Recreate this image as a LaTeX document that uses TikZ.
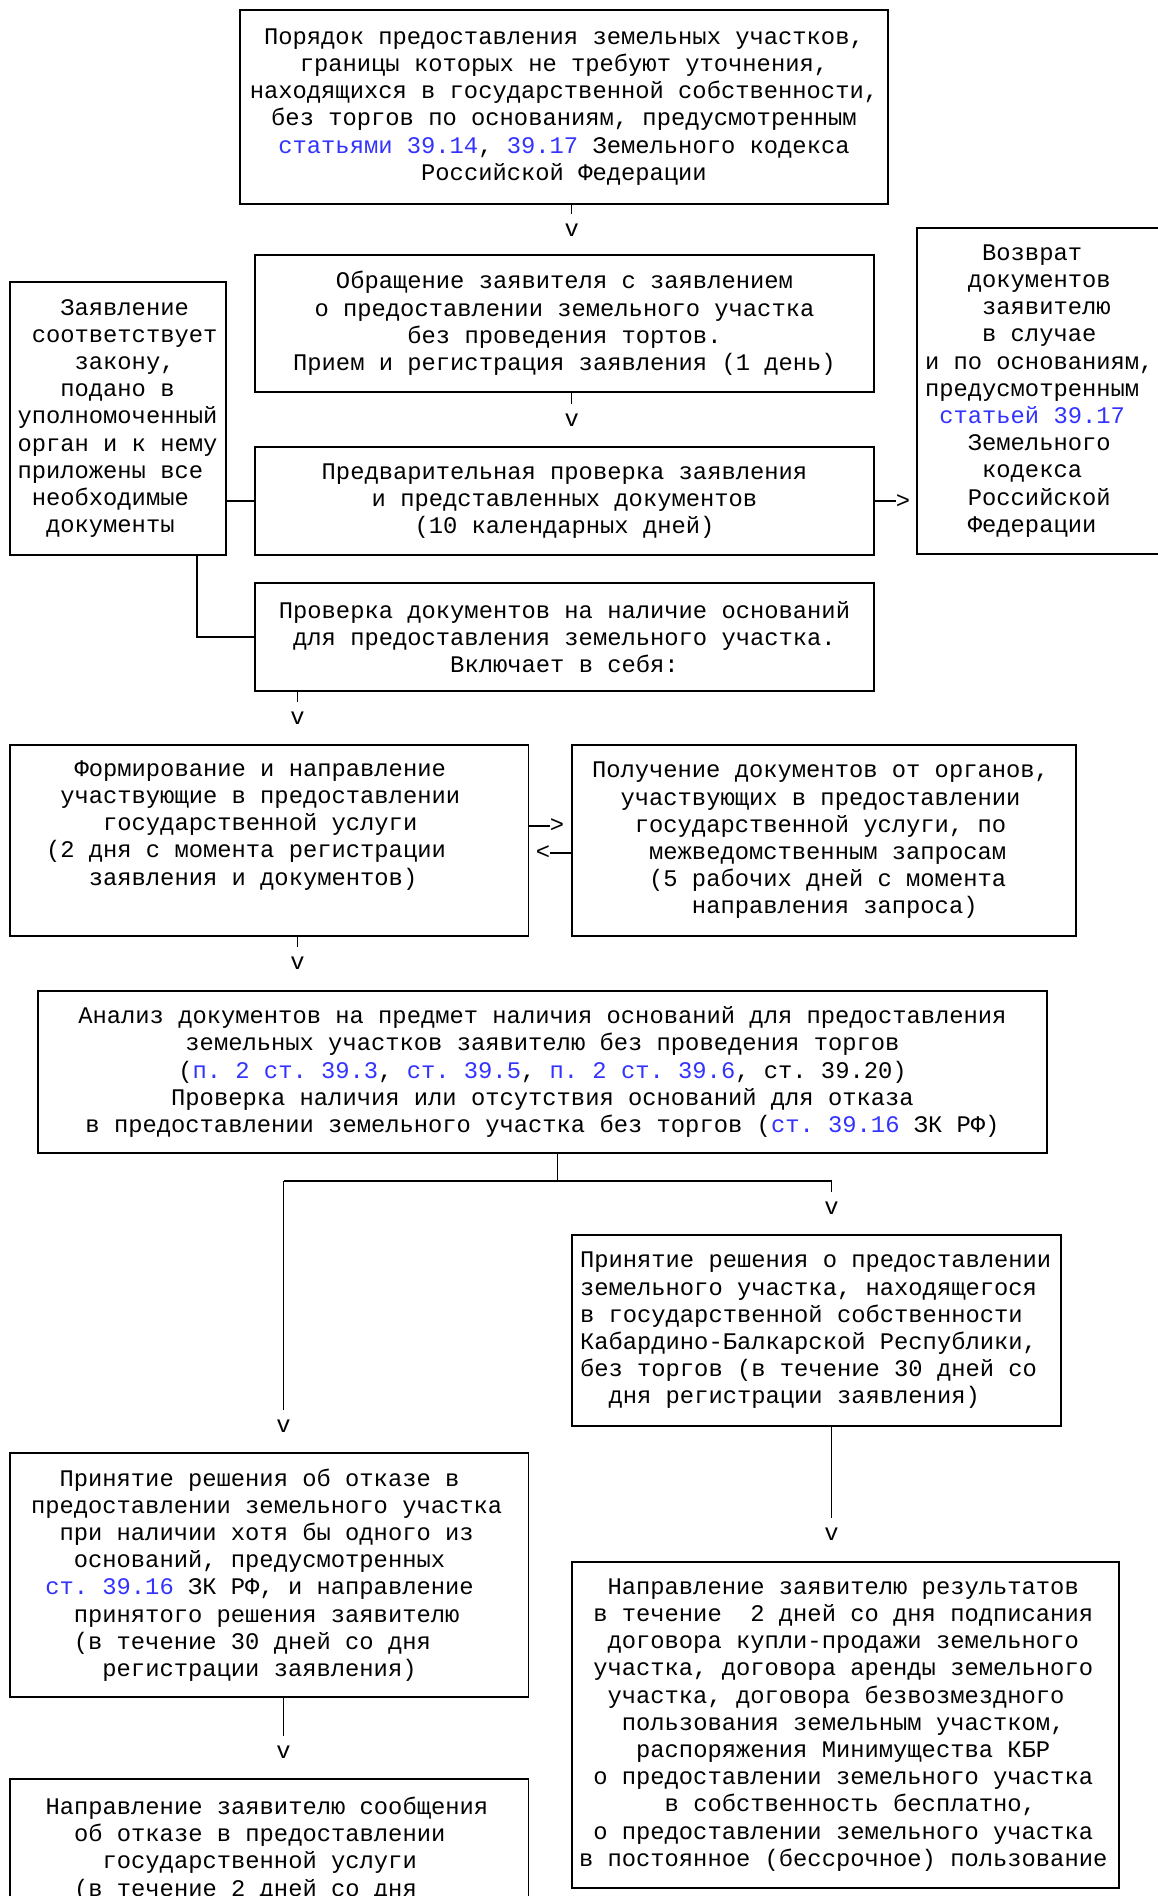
\documentclass[tikz,border=0pt]{standalone}
\usepackage{fontspec}
\newfontfamily\monofnt{Liberation Mono}
\definecolor{lnk}{RGB}{51,51,255}
\newcommand\lnk[1]{\textcolor{lnk}{#1}}
\newcommand\ind[1]{\hspace*{#1\dimexpr 0.60009em\relax}}
\newcommand\fixsp{\spaceskip=0.60009em\relax\xspaceskip=0.60009em\relax}
\newcommand\bxfont{\monofnt\fontsize{23.8pt}{27.2pt}\selectfont\frenchspacing}
\begin{document}
\begin{tikzpicture}[x=1pt,y=-1pt,
  box/.style={draw, line width=1.3pt, anchor=north west, inner ysep=0pt, outer sep=0pt,
              font=\bxfont, execute at begin node={\parindent=0pt}},
  glyph/.style={inner sep=0pt, outer sep=0pt, font=\bxfont},
  conn/.style={line width=1.3pt},
  vconn/.style={conn, shorten >=10pt}]
\useasboundingbox (0,0) rectangle (1158,1896);

% boxes
\node[box, minimum width=648pt, minimum height=194pt, align=center] (b1) at (240,10)
 {Порядок предоставления земельных участков,\\
  границы которых не требуют уточнения,\\
  находящихся в государственной собственности,\\
  без торгов по основаниям, предусмотренным\\
  \lnk{статьями 39.14}, \lnk{39.17} Земельного кодекса\\
  Российской Федерации};

\node[box, minimum width=619pt, minimum height=137pt, align=center] (b2) at (255,255)
 {Обращение заявителя с заявлением\\
  о предоставлении земельного участка\\
  без проведения тортов.\\
  Прием и регистрация заявления (1 день)};

\node[box, minimum width=619pt, minimum height=108pt, align=center] (b3) at (255,447)
 {Предварительная проверка заявления\\
  и представленных документов\\
  (10 календарных дней)};

\node[box, minimum width=216pt, minimum height=273pt, inner xsep=7.5pt, text width=201pt, align=left] (lb) at (10,282)
 {\fixsp\ind3Заявление\\
  \ind1соответствует\\
  \ind4закону,\\
  \ind3подано в\\
  уполномоченный\\
  орган и к нему\\
  приложены все\\
  \ind1необходимые\\
  \ind2документы};

\node[box, minimum width=260pt, minimum height=326pt, inner xsep=8pt, text width=244pt, align=left] (rb) at (917,228)
 {\fixsp\ind4Возврат\\
  \ind3документов\\
  \ind4заявителю\\
  \ind4в случае\\
  и по основаниям,\\
  предусмотренным\\
  \ind1\lnk{статьей 39.17}\\
  \ind3Земельного\\
  \ind4кодекса\\
  \ind3Российской\\
  \ind3Федерации};

\node[box, minimum width=619pt, minimum height=108pt, align=center] (b4) at (255,583)
 {Проверка документов на наличие оснований\\
  для предоставления земельного участка.\\
  Включает в себя:};

\node[box, minimum width=518.5pt, minimum height=191pt, inner xsep=36pt, text width=446.5pt, align=left] (b5) at (10,745)
 {\fixsp\ind2Формирование и направление\\
  \ind1участвующие в предоставлении\\
  \ind4государственной услуги\\
  (2 дня с момента регистрации\\
  \ind3заявления и документов)\\
  \strut};

\node[box, minimum width=504pt, minimum height=191pt, inner xsep=20pt, text width=464pt, align=left] (b6) at (572,745)
 {\fixsp Получение документов от органов,\\
  \ind2участвующих в предоставлении\\
  \ind3государственной услуги, по\\
  \ind4межведомственным запросам\\
  \ind4(5 рабочих дней с момента\\
  \ind7направления запроса)};

\node[box, minimum width=1009pt, minimum height=162pt, align=center] (b7) at (38,991)
 {Анализ документов на предмет наличия оснований для предоставления\\
  земельных участков заявителю без проведения торгов\\
  (\lnk{п. 2 ст. 39.3}, \lnk{ст. 39.5}, \lnk{п. 2 ст. 39.6}, ст. 39.20)\\
  Проверка наличия или отсутствия оснований для отказа\\
  в предоставлении земельного участка без торгов (\lnk{ст. 39.16} ЗК РФ)};

\node[box, minimum width=489pt, minimum height=191pt, inner xsep=8pt, text width=473pt, align=left] (b8) at (572,1235)
 {\fixsp Принятие решения о предоставлении\\
  земельного участка, находящегося\\
  в государственной собственности\\
  Кабардино-Балкарской Республики,\\
  без торгов (в течение 30 дней со\\
  \ind2дня регистрации заявления)};

\node[box, minimum width=518.5pt, minimum height=244pt, inner xsep=21pt, text width=476.5pt, align=left] (b9) at (10,1453)
 {\fixsp\ind2Принятие решения об отказе в\\
  предоставлении земельного участка\\
  \ind2при наличии хотя бы одного из\\
  \ind3оснований, предусмотренных\\
  \ind1\lnk{ст. 39.16} ЗК РФ, и направление\\
  \ind3принятого решения заявителю\\
  \ind3(в течение 30 дней со дня\\
  \ind5регистрации заявления)};

\node[box, minimum width=518.5pt, inner xsep=35.5pt, inner ysep=18pt, text width=447.5pt, align=left] (b10) at (10,1779)
 {\fixsp Направление заявителю сообщения\\
  \ind2об отказе в предоставлении\\
  \ind4государственной услуги\\
  \ind2(в течение 2 дней со дня};

\node[box, minimum width=547pt, minimum height=326pt, inner xsep=7pt, text width=533pt, align=left] (b11) at (572,1562)
 {\fixsp\ind2Направление заявителю результатов\\
  \ind1в течение~~2 дней со дня подписания\\
  \ind2договора купли-продажи земельного\\
  \ind1участка, договора аренды земельного\\
  \ind2участка, договора безвозмездного\\
  \ind3пользования земельным участком,\\
  \ind4распоряжения Минимущества КБР\\
  \ind1о предоставлении земельного участка\\
  \ind6в собственность бесплатно,\\
  \ind1о предоставлении земельного участка\\
  в постоянное (бессрочное) пользование};

% arrow glyphs
\node[glyph] (v1) at (571.7,230) {v};
\node[glyph] (v2) at (571.7,420) {v};
\node[glyph] (v3) at (297.6,718.6) {v};
\node[glyph] (v4) at (297.6,963) {v};
\node[glyph] (vR) at (831.6,1208) {v};
\node[glyph] (vL) at (283.6,1426) {v};
\node[glyph] (v6) at (831.6,1534) {v};
\node[glyph] (v7) at (283.6,1752) {v};
\node[glyph] (gt0) at (903,502) {>};
\node[glyph] (gt1) at (557,826) {>};
\node[glyph] (lt1) at (543,853) {<};

% connectors
\draw[vconn] (b1.south -| v1) -- (v1);
\draw[vconn] (b2.south -| v2) -- (v2);
\draw[conn] (lb.east |- b3.west) -- (b3.west);
\draw[conn] (b3.east) -- (b3.east -| gt0.west);
\draw[conn] ([xshift=79pt]lb.south) |- (b4.west);
\draw[vconn] (b4.south -| v3) -- (v3);
\draw[conn] (b5.east |- gt1) -- (gt1.west);
\draw[conn] (b6.west |- lt1) -- (lt1.east);
\draw[vconn] (b5.south -| v4) -- (v4);
\coordinate (j) at (557.6,1181);
\draw[conn] (b7.south -| j) -- (j);
\draw[conn] (vL |- j) -- (vR |- j);
\draw[vconn] (vL |- j) -- (vL);
\draw[vconn] (vR |- j) -- (vR);
\draw[vconn] (b8.south -| v6) -- (v6);
\draw[vconn] (b9.south -| v7) -- (v7);
\end{tikzpicture}
\end{document}
